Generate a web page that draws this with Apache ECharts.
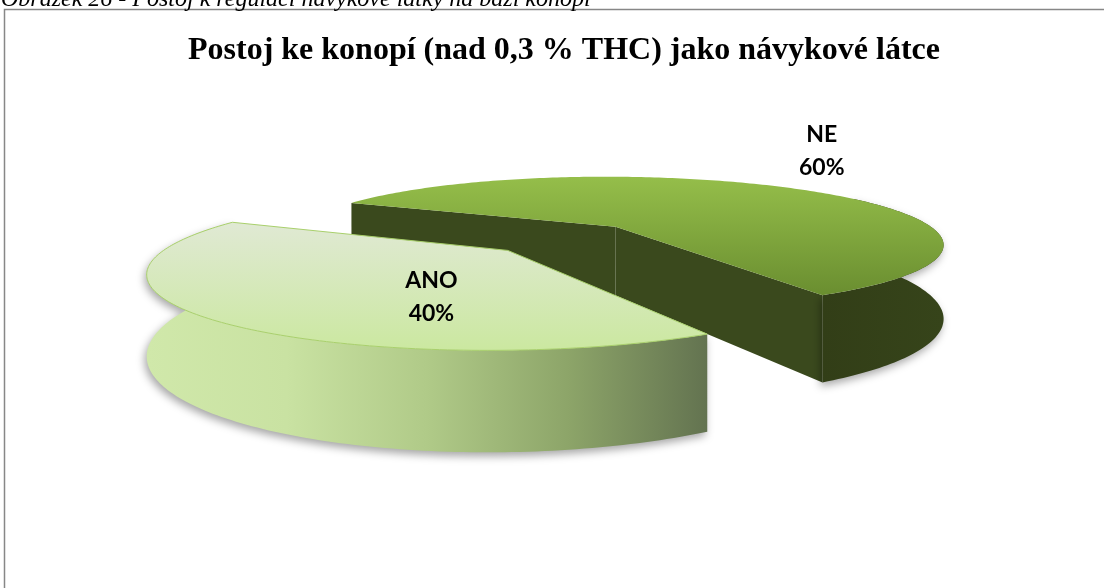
<!DOCTYPE html>
<html>
<head>
<meta charset="utf-8">
<script src="https://cdn.jsdelivr.net/npm/echarts@6/dist/echarts.min.js"></script>
<style>
  html, body { margin: 0; padding: 0; background: #fff; }
  #chart { width: 1104px; height: 588px; }
</style>
</head>
<body>
<div id="chart"></div>
<script>
// data
const categories = ['ANO', 'NE']
const values = [40, 60]
const chartTitle = 'Postoj ke konopí (nad 0,3 % THC) jako návykové látce'
const caption = 'Obrázek 26 - Postoj k regulaci návykové látky na bázi konopí'

// 3d pie look (perspective + explode)
const view = { ox: 564, oy: 238, A: 329, B: 67.5, k: 0.25, H: 72, explode: 0.24, startAngle: 61 }
const labelPlace = { ANO: { ang: 107, r: 0.57 }, NE: { ang: 300, r: 1.98 } }
const palette = {
    ANO: {
        top: ['#e0e9d4', '#cbe8a0'],
        side: ['#d0e8aa', '#c9e2a2', '#b0ca88', '#8da569', '#637350'],
        radial: '#9fb878',
        stroke: '#a9d06c'
    },
    NE: {
        top: ['#95be4a', '#6a8e30'],
        side: ['#323e17', '#36441a'],
        radial: '#3a491d',
        stroke: null
    }
}

const total = values.reduce((a, b) => a + b, 0)
const slices = []
let acc = view.startAngle
values.forEach((v) => {
    const span = v / total * 360
    slices.push({ a0: acc, a1: acc + span, mid: acc + span / 2 })
    acc += span
})
// back slices first
const rank = slices.map((s, i) => i).sort((a, b) => Math.sin(slices[a].mid * Math.PI / 180) - Math.sin(slices[b].mid * Math.PI / 180))

function rad (d) { return d * Math.PI / 180 }
function project (u, v, drop) {
    const w = 1 - view.k * v
    return [view.ox + view.A * u / w, view.oy + view.B * v / w + (drop ? view.H / w : 0)]
}

function renderItem (params, api) {
    const i = params.dataIndex
    const s = slices[i]
    const name = categories[i]
    const pal = palette[name]
    const base = rank.indexOf(i) * 10
    const cx = view.explode * Math.cos(rad(s.mid))
    const cy = view.explode * Math.sin(rad(s.mid))
    const at = (t, drop) => project(cx + Math.cos(rad(t)), cy + Math.sin(rad(t)), drop)
    const children = []

    // radial faces that look to the front
    const faces = [[s.a0, s.a0 - 90], [s.a1, s.a1 + 90]]
    faces.forEach(([t, n]) => {
        if (Math.sin(rad(n)) <= 0) return
        children.push({
            type: 'polygon',
            z2: base + 1,
            shape: { points: [project(cx, cy), at(t), at(t, true), project(cx, cy, true)] },
            style: { fill: pal.radial }
        })
    })

    // outer side, front part (a bit wider, the top face hides the rest)
    const off = s.a0 >= 180 ? 360 : 0
    const lo = Math.max(s.a0, off - 30)
    const hi = Math.min(s.a1, off + 210)
    if (hi > lo) {
        const topArc = []
        const botArc = []
        for (let t = lo; t < hi; t += 1) {
            topArc.push(at(t))
            botArc.push(at(t, true))
        }
        topArc.push(at(hi))
        botArc.push(at(hi, true))
        children.push({
            type: 'polygon',
            z2: base + 2,
            shape: { points: topArc.concat(botArc.reverse()) },
            style: {
                fill: {
                    type: 'linear', x: 0, y: 0, x2: 1, y2: 0,
                    colorStops: pal.side.map((c, j) => ({ offset: j / (pal.side.length - 1), color: c }))
                },
                shadowBlur: 8,
                shadowColor: 'rgba(0,0,0,0.35)',
                shadowOffsetX: -2,
                shadowOffsetY: 4
            }
        })
    }

    // top face
    const topPts = [project(cx, cy)]
    for (let t = s.a0; t < s.a1; t += 1) topPts.push(at(t))
    topPts.push(at(s.a1))
    children.push({
        type: 'polygon',
        z2: base + 3,
        shape: { points: topPts },
        style: {
            fill: {
                type: 'linear', x: 0, y: 0, x2: 0, y2: 1,
                colorStops: [{ offset: 0, color: pal.top[0] }, { offset: 1, color: pal.top[1] }]
            },
            stroke: pal.stroke,
            lineWidth: pal.stroke ? 1 : 0
        }
    })

    // label
    const lp = labelPlace[name]
    const pos = project(cx + lp.r * Math.cos(rad(lp.ang)), cy + lp.r * Math.sin(rad(lp.ang)))
    children.push({
        type: 'text',
        z2: 100,
        x: pos[0],
        y: pos[1],
        style: {
            text: name + '\n' + Math.round(api.value(0) / total * 100) + '%',
            align: 'center',
            verticalAlign: 'middle',
            font: 'bold 23px Lato',
            lineHeight: 33,
            fill: '#000'
        }
    })
    return { type: 'group', children: children }
}

const chart = echarts.init(document.getElementById('chart'))
chart.setOption({
    animation: false,
    backgroundColor: '#fff',
    title: {
        text: chartTitle,
        left: 559,
        top: 30,
        textAlign: 'center',
        textStyle: {
            fontFamily: 'Liberation Serif',
            fontWeight: 'bold',
            fontSize: 32,
            color: '#000'
        }
    },
    graphic: [
        {
            type: 'rect',
            silent: true,
            shape: { x: 4.5, y: 9.5, width: 1200, height: 700 },
            style: { fill: 'none', stroke: '#878787', lineWidth: 1.5 }
        },
        {
            type: 'text',
            x: 1,
            y: -12,
            style: {
                text: caption,
                font: 'italic 24px "Liberation Serif"',
                fill: '#000'
            }
        }
    ],
    series: [{
        type: 'custom',
        coordinateSystem: 'none',
        silent: true,
        data: values.map((v, i) => ({ value: v, name: categories[i] })),
        renderItem: renderItem
    }]
})
</script>
</body>
</html>
